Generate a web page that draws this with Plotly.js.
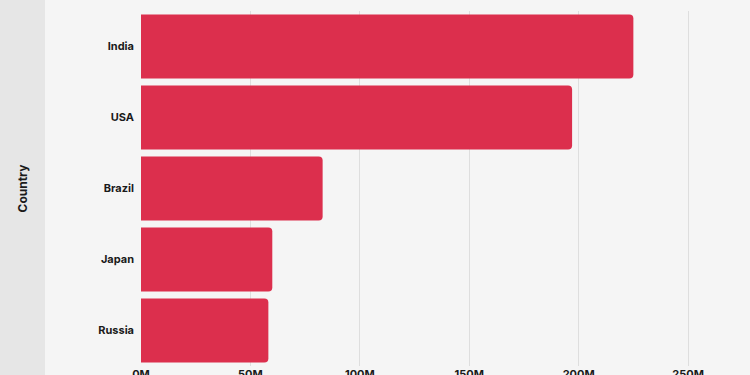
<!DOCTYPE html>
<html>
<head>
<meta charset="utf-8">
<script src="https://cdn.plot.ly/plotly-3.0.1.min.js"></script>
<style>
  html, body { margin:0; padding:0; }
  body { width:750px; height:375px; overflow:hidden;
         background: linear-gradient(to right, #e6e6e6 0px, #e6e6e6 45px, #f5f5f5 45px, #f5f5f5 100%); }
  #chart { width:750px; height:375px; }
</style>
</head>
<body>
<div id="chart"></div>
<script>
const countries = ["India", "USA", "Brazil", "Japan", "Russia"];
const values = [225e6, 197e6, 83e6, 60e6, 58.2e6];
const tickVals = [0, 50e6, 100e6, 150e6, 200e6, 250e6];
const tickText = ["0M", "50M", "100M", "150M", "200M", "250M"];

const fontFam = "Inter, 'Noto Sans', sans-serif";

Plotly.newPlot("chart", [{
  type: "bar",
  orientation: "h",
  y: countries,
  x: values,
  marker: { color: "#dc2f4d" },
  width: 0.9,
  hoverinfo: "none"
}], {
  width: 750, height: 375,
  margin: { l: 141, r: 0, t: 11, b: 9 },
  paper_bgcolor: "rgba(0,0,0,0)",
  plot_bgcolor: "rgba(0,0,0,0)",
  barcornerradius: 4,
  showlegend: false,
  xaxis: {
    range: [0, 278.3e6],
    tickvals: tickVals,
    ticktext: tickText,
    showgrid: true,
    gridcolor: "#dedede",
    gridwidth: 1,
    zeroline: false,
    showline: false,
    ticks: "",
    tickfont: { family: fontFam, size: 11, color: "#1a1a1a", weight: 700 },
    fixedrange: true
  },
  yaxis: {
    categoryorder: "array",
    categoryarray: countries.slice().reverse(),
    autorange: true,
    showgrid: false,
    zeroline: false,
    showline: false,
    ticks: "",
    ticklabelstandoff: 6,
    tickfont: { family: fontFam, size: 11, color: "#1a1a1a", weight: 700 },
    fixedrange: true
  },
  annotations: [{
    text: "Country",
    xref: "paper", yref: "paper",
    x: (22 - 141) / 609, y: 0.5,
    xanchor: "center", yanchor: "middle",
    textangle: -90,
    showarrow: false,
    font: { family: fontFam, size: 12, color: "#1a1a1a", weight: 700 }
  }]
}, { displayModeBar: false, staticPlot: true });
</script>
</body>
</html>
